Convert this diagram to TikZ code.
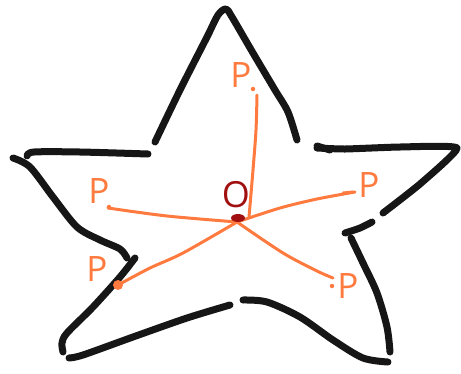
\documentclass[tikz,border=0pt]{standalone}
\usepackage{fontspec}
\setmainfont{Open Sans}
\definecolor{ink}{RGB}{22,22,22}
\definecolor{orng}{RGB}{255,122,62}
\definecolor{dred}{RGB}{160,16,16}
\begin{document}
\begin{tikzpicture}[x=1pt,y=-1pt,
  blk/.style={draw=ink,line width=7pt,line cap=round,line join=round},
  org/.style={draw=orng,line width=3pt,line cap=round,line join=round},
  plabel/.style={text=orng,font=\fontsize{35}{35}\selectfont,inner sep=0pt},
  dotmark/.style={fill=orng,circle,inner sep=0pt,minimum size=4.5pt}]
\useasboundingbox (0,0) rectangle (461,373);
% star outline (hand-drawn strokes)
\draw[blk] plot[smooth,tension=0.5] coordinates {(155,142) (180,90) (207,37) (218,15) (226,9) (232,17) (253,53) (275,90) (288,112) (297,140)};
\draw[blk] plot[smooth,tension=0.5] coordinates {(27,156) (34,152) (80,152) (148,154)};
\draw[blk] plot[smooth,tension=0.5] coordinates {(13,158) (30,167) (53,197) (77,227) (100,240) (120,249) (127,258)};
\draw[blk] plot[smooth,tension=0.5] coordinates {(135,258) (120,277) (93,307) (67,333) (62,343) (63,352)};
\draw[blk] plot[smooth,tension=0.5] coordinates {(69,358) (83,355) (133,337) (187,318) (230,305)};
\draw[blk] plot[smooth,tension=0.5] coordinates {(243,300) (267,302) (300,317) (333,340) (363,358) (388,362)};
\draw[blk] plot[smooth,tension=0.5] coordinates {(351,238) (363,263) (377,293) (387,327) (390,352)};
\draw[blk] plot[smooth,tension=0.5] coordinates {(345,233) (360,228) (372,222)};
\draw[blk] plot[smooth,tension=0.3] coordinates {(383,213) (420,184) (457,148) (400,147) (345,149) (317,148)};
\draw[blk] (317,146) -- (330,150);
% centre
\coordinate (c) at (237,222);
\node[text=dred,font=\fontsize{36}{36}\selectfont,inner sep=0pt] (o) at (236,195) {O};
\coordinate (e1) at (257,95);
\coordinate (e2) at (108,208);
\coordinate (e3) at (355,192);
\coordinate (e4) at (333,278);
\coordinate (e5) at (118,285);
\draw[org] plot[smooth] coordinates {(249,217) (253,170) (256,130) (e1)};
\draw[org] plot[smooth] coordinates {(c) (167,216) (e2)};
\draw[org] plot[smooth] coordinates {(c) (280,208) (317,199) (e3)};
\draw[org] (343,193) -- (353,192);
\draw[org] plot[smooth] coordinates {(c) (283,253) (317,271) (e4)};
\draw[org] plot[smooth] coordinates {(c) (183,253) (150,268) (e5)};
\fill[orng] (e5) circle (5pt);
\fill[dred] (238,218) ellipse (7pt and 4pt);
% labels
\node[plabel] (p1) at (241,75) {P};
\node[plabel] (p2) at (99,191) {P};
\node[plabel] (p3) at (369,185) {P};
\node[plabel] (p4) at (97,269) {P};
\node[plabel] (p5) at (348,286) {P};
\node[dotmark] at (253,89) {};
\node[dotmark] at (109,207) {};
\node[dotmark] at (332,286) {};
\end{tikzpicture}
\end{document}
